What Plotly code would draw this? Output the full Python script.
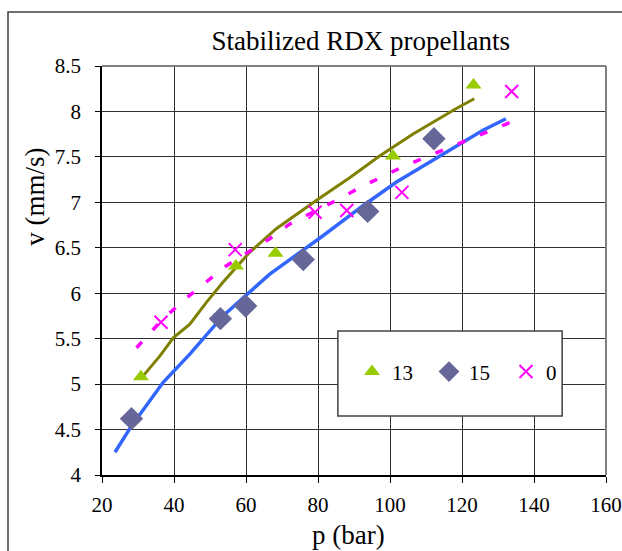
import plotly.graph_objects as go

# ---- data ----
s13_p = [30.8, 57.2, 68.2, 100.8, 123.2]
s13_v = [5.08, 6.30, 6.44, 7.51, 8.29]

s15_p = [28.2, 52.9, 59.9, 75.9, 93.8, 112.2]
s15_v = [4.62, 5.72, 5.86, 6.37, 6.90, 7.70]

s0_p = [36.4, 57.0, 79.2, 88.0, 103.3, 133.8]
s0_v = [5.68, 6.48, 6.89, 6.91, 7.11, 8.22]

fit13_p = [30.8, 36.1, 39.8, 44.4, 49.0, 53.6, 61.0, 68.4, 79.5, 88.8, 97.1, 106.3, 118.3, 123.4]
fit13_v = [5.06, 5.31, 5.51, 5.66, 5.90, 6.12, 6.45, 6.71, 7.02, 7.27, 7.51, 7.75, 8.03, 8.14]

fit15_p = [23.6, 28.2, 37.0, 44.4, 53.6, 66.6, 81.3, 88.8, 92.4, 101.7, 110.9, 120.2, 125.7, 132.2]
fit15_v = [4.25, 4.54, 5.02, 5.33, 5.75, 6.21, 6.63, 6.85, 6.96, 7.22, 7.44, 7.66, 7.79, 7.92]

fit0_p = [29.6, 36.5, 43.5, 48.5, 54.5, 66.6, 72.1, 85.0, 91.5, 104.0, 116.9, 129.4, 136.5]
fit0_v = [5.40, 5.70, 5.95, 6.11, 6.30, 6.60, 6.76, 7.02, 7.16, 7.40, 7.61, 7.81, 7.93]

x_ticks = [20, 40, 60, 80, 100, 120, 140, 160]
y_ticks = [4, 4.5, 5, 5.5, 6, 6.5, 7, 7.5, 8, 8.5]
y_ticklabels = ["4", "4.5", "5", "5.5", "6", "6.5", "7", "7.5", "8", "8.5"]

FONT = "Liberation Serif"

fig = go.Figure()

fig.add_trace(go.Scatter(x=fit13_p, y=fit13_v, mode="lines",
                         line=dict(color="#808000", width=3), showlegend=False, hoverinfo="skip"))
fig.add_trace(go.Scatter(x=fit15_p, y=fit15_v, mode="lines",
                         line=dict(color="#3366FF", width=3.5), showlegend=False, hoverinfo="skip"))
fig.add_trace(go.Scatter(x=fit0_p, y=fit0_v, mode="lines",
                         line=dict(color="#FF00FF", width=3.5, dash="8px,16px"), showlegend=False, hoverinfo="skip"))

fig.add_trace(go.Scatter(x=s13_p, y=s13_v, mode="markers", name="13",
                         marker=dict(symbol="triangle-up", size=14, color="#99CC00")))
fig.add_trace(go.Scatter(x=s15_p, y=s15_v, mode="markers", name="15",
                         marker=dict(symbol="diamond", size=18, color="#666699")))
fig.add_trace(go.Scatter(x=s0_p, y=s0_v, mode="markers", name="0",
                         marker=dict(symbol="x-thin", size=13, color="#FF00FF",
                                     line=dict(color="#FF00FF", width=2))))

fig.update_layout(
    width=622, height=551,
    margin=dict(l=102, r=16, t=66, b=76, autoexpand=False),
    paper_bgcolor="white", plot_bgcolor="white",
    font=dict(family=FONT, color="black", size=21),
    title=dict(text="Stabilized RDX propellants", x=0.58, xanchor="center",
               y=0.926, yanchor="middle", font=dict(family=FONT, size=27, color="black")),
    xaxis=dict(range=[20, 160], tickvals=x_ticks, showgrid=True, gridcolor="#303030", gridwidth=1,
               showline=True, linecolor="black", linewidth=1.5, ticks="outside", ticklen=6,
               tickcolor="black", tickfont=dict(size=21, family=FONT), zeroline=False,
               ticklabelstandoff=4, automargin=False),
    yaxis=dict(range=[4, 8.5], tickvals=y_ticks, ticktext=y_ticklabels, showgrid=True,
               gridcolor="#303030", gridwidth=1,
               showline=True, linecolor="black", linewidth=1.5, ticks="outside", ticklen=5,
               tickcolor="black", tickfont=dict(size=21, family=FONT), zeroline=False,
               ticklabelstandoff=10, automargin=False),
    legend=dict(orientation="h", x=0.496, xanchor="left", y=0.252, yanchor="middle",
                bgcolor="rgba(0,0,0,0)", borderwidth=0,
                font=dict(family=FONT, size=21, color="black"),
                entrywidth=32, entrywidthmode="pixels"),
    showlegend=True,
)

shapes = [
    # outer chart frame
    dict(type="rect", xref="paper", yref="paper", x0=-0.1865, x1=1.2, y0=-0.3, y1=1.132,
         line=dict(color="#404040", width=1.5), fillcolor="rgba(0,0,0,0)", layer="below"),
    # top/right plot border
    dict(type="line", xref="paper", yref="paper", x0=0, x1=1, y0=1, y1=1,
         line=dict(color="#808080", width=2), layer="above"),
    dict(type="line", xref="paper", yref="paper", x0=1, x1=1, y0=0, y1=1,
         line=dict(color="#808080", width=2), layer="above"),
    # legend box
    dict(type="rect", xref="paper", yref="paper", x0=0.468, x1=0.913, y0=0.144, y1=0.352,
         line=dict(color="#404040", width=1.5), fillcolor="white", layer="above"),
]
fig.update_layout(shapes=shapes)

fig.add_annotation(text="p (bar)", xref="paper", yref="paper", x=0.49, y=-0.1467,
                   xanchor="center", yanchor="middle", showarrow=False,
                   font=dict(family=FONT, size=27, color="black"))
fig.add_annotation(text="v (mm/s)", xref="paper", yref="paper", x=-0.133, y=0.68,
                   xanchor="center", yanchor="middle", showarrow=False, textangle=-90,
                   font=dict(family=FONT, size=27, color="black"))

fig.write_html("out.html", config={"displayModeBar": False},
               post_script="document.body.style.margin='0';document.body.style.overflow='hidden';")
